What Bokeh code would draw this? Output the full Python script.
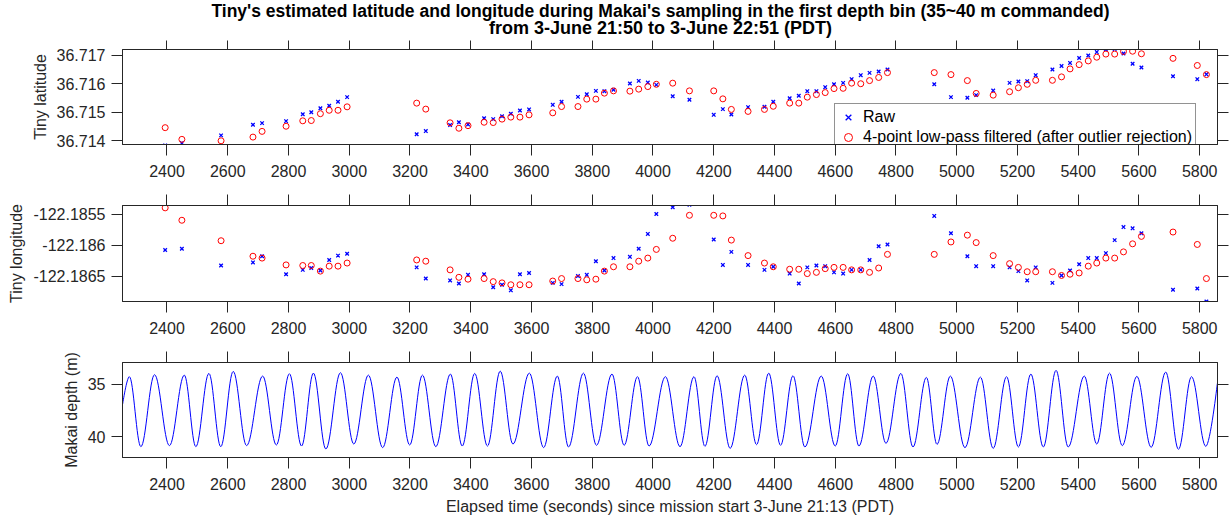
from bokeh.plotting import figure
from bokeh.layouts import column
from bokeh.models import (Range1d, FixedTicker, LinearAxis, CustomJSTickFormatter,
                          Legend, LegendItem, Label)
from bokeh.embed import file_html
from bokeh.resources import INLINE

# ---------------- data ----------------
TITLE_1 = "Tiny's estimated latitude and longitude during Makai's sampling in the first depth bin (35~40 m commanded)"
TITLE_2 = "from 3-June 21:50 to 3-June 22:51 (PDT)"
X_LABEL = "Elapsed time (seconds) since mission start 3-June 21:13 (PDT)"
LAT_LABEL = "Tiny latitude"
LON_LABEL = "Tiny longitude"
DEPTH_LABEL = "Makai depth (m)"
LEGEND_RAW = "Raw"
LEGEND_FILT = "4-point low-pass filtered (after outlier rejection)"

X_TICKS = [2400, 2600, 2800, 3000, 3200, 3400, 3600, 3800, 4000, 4200,
           4400, 4600, 4800, 5000, 5200, 5400, 5600, 5800]
LAT_TICKS = [36.714, 36.715, 36.716, 36.717]
LON_TICKS = [-122.1865, -122.186, -122.1855]
DEPTH_TICKS = [35, 40]

fix_time = [2394, 2449, 2578, 2683, 2713, 2792, 2847, 2875, 2905, 2934, 2963, 2993,
            3222, 3252, 3332, 3361, 3391, 3444, 3474, 3503, 3532, 3562, 3592, 3670,
            3699, 3753, 3782, 3812, 3840, 3870, 3924, 3953, 3983, 4011, 4065, 4120,
            4200, 4230, 4258, 4313, 4367, 4396, 4450, 4480, 4508, 4538, 4567, 4596,
            4626, 4654, 4684, 4713, 4743, 4772, 4926, 4981, 5035, 5064, 5120, 5174,
            5203, 5232, 5260, 5315, 5345, 5373, 5403, 5433, 5461, 5491, 5520, 5549,
            5579, 5608, 5712, 5792, 5822]

lat_raw = [36.71384, 36.71392, 36.71419, 36.71456, 36.71462, 36.71469, 36.71493, 36.71500,
           36.71514, 36.71523, 36.71537, 36.71553, 36.71423, 36.71434, 36.71455, 36.71465,
           36.71457, 36.71479, 36.71476, 36.71486, 36.71495, 36.71506, 36.71510, 36.71526,
           36.71537, 36.71554, 36.71563, 36.71575, 36.71574, 36.71579, 36.71601, 36.71610,
           36.71604, 36.71596, 36.71556, 36.71544, 36.71491, 36.71511, 36.71492, 36.71518,
           36.71519, 36.71537, 36.71549, 36.71558, 36.71574, 36.71574, 36.71588, 36.71598,
           36.71603, 36.71616, 36.71630, 36.71638, 36.71643, 36.71650, 36.71598, 36.71553,
           36.71551, 36.71560, 36.71576, 36.71603, 36.71608, 36.71609, 36.71630, 36.71650,
           36.71662, 36.71673, 36.71690, 36.71699, 36.71711, 36.71720, 36.71722, 36.71706,
           36.71670, 36.71657, 36.71626, 36.71616, 36.71633]

lat_filt = [36.71446, 36.71405, 36.71400, 36.71413, 36.71433, 36.71451, 36.71470, 36.71471,
            36.71495, 36.71507, 36.71507, 36.71519, 36.71532, 36.71511, 36.71463, 36.71444,
            36.71453, 36.71465, 36.71464, 36.71476, 36.71483, 36.71483, 36.71491, 36.71498,
            36.71520, 36.71520, 36.71546, 36.71546, 36.71567, 36.71575, 36.71574, 36.71581,
            36.71590, 36.71598, 36.71602, 36.71575, 36.71575, 36.71547, 36.71510, 36.71503,
            36.71510, 36.71521, 36.71532, 36.71532, 36.71553, 36.71562, 36.71569, 36.71583,
            36.71584, 36.71602, 36.71600, 36.71611, 36.71622, 36.71639, 36.71639, 36.71632,
            36.71611, 36.71566, 36.71560, 36.71572, 36.71586, 36.71598, 36.71612, 36.71612,
            36.71624, 36.71652, 36.71667, 36.71680, 36.71693, 36.71704, 36.71704, 36.71713,
            36.71714, 36.71705, 36.71689, 36.71664, 36.71632]

lon_raw = [-122.18608, -122.18606, -122.18633, -122.18628, -122.18618, -122.18647, -122.18640,
           -122.18637, -122.18641, -122.18624, -122.18617, -122.18614, -122.18636, -122.18654,
           -122.18657, -122.18662, -122.18648, -122.18647, -122.18668, -122.18664, -122.18673,
           -122.18647, -122.18645, -122.18661, -122.18663, -122.18650, -122.18648, -122.18626,
           -122.18641, -122.18621, -122.18619, -122.18606, -122.18582, -122.18550, -122.18539,
           -122.18535, -122.18591, -122.18632, -122.18611, -122.18632, -122.18640, -122.18635,
           -122.18646, -122.18662, -122.18636, -122.18633, -122.18634, -122.18644, -122.18646,
           -122.18640, -122.18640, -122.18624, -122.18602, -122.18599, -122.18553, -122.18581,
           -122.18618, -122.18634, -122.18634, -122.18636, -122.18642, -122.18657, -122.18636,
           -122.18661, -122.18649, -122.18641, -122.18631, -122.18621, -122.18621, -122.18613,
           -122.18592, -122.18571, -122.18573, -122.18581, -122.18672, -122.18670, -122.18691]

lon_filt = [-122.18540, -122.18560, -122.18593, -122.18618, -122.18621, -122.18632, -122.18633,
            -122.18633, -122.18642, -122.18634, -122.18634, -122.18629, -122.18624, -122.18626,
            -122.18640, -122.18652, -122.18655, -122.18654, -122.18659, -122.18661, -122.18664,
            -122.18664, -122.18664, -122.18658, -122.18654, -122.18654, -122.18656, -122.18655,
            -122.18642, -122.18635, -122.18635, -122.18626, -122.18621, -122.18607, -122.18589,
            -122.18552, -122.18552, -122.18553, -122.18592, -122.18617, -122.18629, -122.18635,
            -122.18639, -122.18639, -122.18646, -122.18644, -122.18638, -122.18636, -122.18636,
            -122.18640, -122.18640, -122.18644, -122.18637, -122.18615, -122.18615, -122.18595,
            -122.18584, -122.18596, -122.18617, -122.18630, -122.18636, -122.18643, -122.18643,
            -122.18643, -122.18649, -122.18647, -122.18645, -122.18634, -122.18629, -122.18621,
            -122.18621, -122.18611, -122.18598, -122.18586, -122.18579, -122.18599, -122.18654]

# Makai depth trace: visible end points and every crest / trough
depth_time = [2254, 2276, 2314, 2359, 2408, 2457, 2495, 2538, 2577, 2618, 2662, 2715, 2760,
              2803, 2843, 2882, 2923, 2971, 3015, 3063, 3110, 3157, 3199, 3241, 3285, 3333,
              3372, 3413, 3455, 3497, 3539, 3593, 3640, 3685, 3722, 3771, 3814, 3865, 3905,
              3949, 3987, 4041, 4089, 4135, 4171, 4211, 4254, 4302, 4341, 4381, 4420, 4461,
              4500, 4554, 4600, 4641, 4678, 4725, 4767, 4816, 4856, 4900, 4935, 4979, 5027,
              5078, 5120, 5164, 5203, 5244, 5285, 5327, 5367, 5420, 5461, 5503, 5545, 5593,
              5640, 5688, 5730, 5773, 5820, 5858]
depth_value = [36.90, 34.30, 40.95, 34.11, 40.85, 34.15, 40.95, 33.99, 40.95, 33.80, 40.85,
               34.24, 40.79, 34.02, 40.89, 33.96, 41.17, 33.92, 40.70, 34.15, 41.04, 34.34,
               40.79, 34.15, 40.95, 34.05, 40.89, 33.99, 40.89, 33.77, 40.70, 33.96, 41.04,
               34.24, 40.98, 33.96, 40.82, 34.05, 40.82, 34.30, 40.89, 34.30, 40.95, 34.30,
               40.92, 34.21, 41.11, 34.15, 40.76, 33.96, 40.82, 34.21, 40.98, 34.24, 40.89,
               34.02, 40.89, 34.24, 40.63, 33.99, 40.98, 34.37, 40.73, 34.24, 41.04, 34.34,
               41.11, 34.30, 40.98, 34.05, 40.98, 33.70, 40.98, 34.24, 40.70, 33.96, 40.85,
               34.27, 41.01, 33.86, 41.20, 34.30, 40.92, 34.94]

# ---------------- styling ----------------
FONT = "Liberation Sans"
AX_COLOR = "#262626"
FIG_W = 1232
BORDER_L = 122
BORDER_R = 15
TICK_LEN = 11
FRAME_W = FIG_W - BORDER_L - BORDER_R

x_range = Range1d(2253.5, 5858.5)


def style_axis(ax, ticks, show_labels, fmt=None, label=None, standoff=7, tick=TICK_LEN):
    ax.ticker = FixedTicker(ticks=ticks)
    ax.major_tick_in = 0
    ax.major_tick_out = tick
    ax.minor_tick_in = 0
    ax.minor_tick_out = 0
    ax.major_tick_line_color = AX_COLOR
    ax.axis_line_color = AX_COLOR
    ax.axis_line_width = 1
    if fmt is not None:
        ax.formatter = fmt
    if show_labels:
        ax.major_label_text_font = FONT
        ax.major_label_text_font_size = "16px"
        ax.major_label_text_color = AX_COLOR
        ax.major_label_standoff = standoff
    else:
        ax.major_label_text_font_size = "0px"
        ax.major_label_standoff = 0
        ax.formatter = CustomJSTickFormatter(code="return '';")
    if label:
        ax.axis_label = label
        ax.axis_label_text_font = FONT
        ax.axis_label_text_font_size = "16px"
        ax.axis_label_text_font_style = "normal"
        ax.axis_label_text_color = AX_COLOR
        ax.axis_label_standoff = 5


def make_fig(height, b_top, b_bottom, y_range, y_ticks, y_label, x_label=None,
             y_fmt=None, top_tick=TICK_LEN):
    p = figure(width=FIG_W, height=height, x_range=x_range, y_range=y_range,
               output_backend="svg", toolbar_location=None,
               min_border_left=BORDER_L, min_border_right=BORDER_R,
               min_border_top=b_top, min_border_bottom=b_bottom)
    p.grid.visible = False
    p.outline_line_color = AX_COLOR
    p.background_fill_color = "white"
    p.border_fill_color = "white"
    style_axis(p.xaxis[0], X_TICKS, True, label=x_label, standoff=9)
    style_axis(p.yaxis[0], y_ticks, True, fmt=y_fmt, label=y_label, standoff=6)
    top = LinearAxis()
    style_axis(top, X_TICKS, False, tick=top_tick)
    p.add_layout(top, "above")
    right = LinearAxis()
    style_axis(right, y_ticks, False)
    p.add_layout(right, "right")
    return p


num_fmt = CustomJSTickFormatter(code="return tick.toString();")

# ---- title strip: its frame is aligned with the panels below (x 122..1217),
#      so its data coordinates are set to page pixels ----
TITLE_H = 40
p0 = figure(width=FIG_W, height=TITLE_H, title=None,
            x_range=Range1d(BORDER_L, FIG_W - BORDER_R), y_range=Range1d(TITLE_H, 0),
            x_axis_type=None, y_axis_type=None,
            output_backend="svg", toolbar_location=None,
            min_border_left=BORDER_L, min_border_right=BORDER_R, min_border_top=0,
            min_border_bottom=0)
p0.grid.visible = False
p0.outline_line_color = None
p0.border_fill_color = "white"
p0.background_fill_color = "white"
title_x = 660
p0.add_layout(Label(x=title_x, y=10, text=TITLE_1, text_align="center",
                    text_baseline="alphabetic", text_font=FONT, text_font_size="17.5px",
                    text_font_style="bold", text_color="#000000"))
p0.add_layout(Label(x=title_x, y=27, text=TITLE_2, text_align="center",
                    text_baseline="alphabetic", text_font=FONT, text_font_size="18px",
                    text_font_style="bold", text_color="#000000"))

# ---- top: latitude ----
p1 = make_fig(148, 9, 44, Range1d(36.71387, 36.71720), LAT_TICKS, LAT_LABEL,
              y_fmt=num_fmt, top_tick=9)
r_raw = p1.scatter(fix_time, lat_raw, marker="x", size=5, line_color="#0000ff",
                   line_width=1.3)
r_filt = p1.scatter(fix_time, lat_filt, marker="circle", size=6, fill_color=None,
                    line_color="#ff0000", line_width=1)
legend = Legend(items=[LegendItem(label=LEGEND_RAW, renderers=[r_raw]),
                       LegendItem(label=LEGEND_FILT, renderers=[r_filt])],
                location=(712, -7), margin=0, padding=3, spacing=0,
                glyph_height=20, glyph_width=20, label_standoff=5,
                label_text_font=FONT, label_text_font_size="16px",
                label_text_color="#000000", label_height=20,
                border_line_color=AX_COLOR, border_line_width=1,
                background_fill_color="white", background_fill_alpha=1.0)
p1.add_layout(legend)

# ---- middle: longitude ----
p2 = make_fig(157, 17, 44, Range1d(-122.186910, -122.185362), LON_TICKS, LON_LABEL,
              y_fmt=num_fmt)
p2.scatter(fix_time, lon_raw, marker="x", size=5, line_color="#0000ff", line_width=1.3)
p2.scatter(fix_time, lon_filt, marker="circle", size=6, fill_color=None,
           line_color="#ff0000", line_width=1)

# ---- bottom: depth ----
p3 = make_fig(177, 17, 65, Range1d(41.98, 32.95), DEPTH_TICKS, DEPTH_LABEL,
              x_label=X_LABEL)
K = 0.3634  # handle length giving a sinusoid-like crest/trough shape
x0, y0, x1, y1, cx0, cy0, cx1, cy1 = [], [], [], [], [], [], [], []
n = len(depth_time)
for i in range(n - 1):
    ta, tb = depth_time[i], depth_time[i + 1]
    da, db = depth_value[i], depth_value[i + 1]
    h = K * (tb - ta)
    x0.append(ta); y0.append(da); x1.append(tb); y1.append(db)
    cx0.append(ta if i == 0 else ta + h); cy0.append(da)
    cx1.append(tb if i + 1 == n - 1 else tb - h); cy1.append(db)
p3.bezier(x0=x0, y0=y0, x1=x1, y1=y1, cx0=cx0, cy0=cy0, cx1=cx1, cy1=cy1,
          line_color="#0000ff", line_width=1)

layout = column(p0, p1, p2, p3)
open("out.html", "w").write(file_html(layout, INLINE))
